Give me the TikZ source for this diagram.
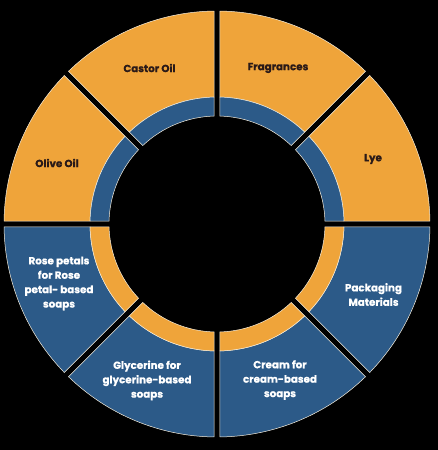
\documentclass[tikz,border=0pt]{standalone}
\usepackage{fontspec}
\newfontfamily\popfont{Poppins}[BoldFeatures={FakeBold=0.6}]
\definecolor{segorange}{HTML}{EFA43A}
\definecolor{segblue}{HTML}{2C5A88}
\definecolor{darktext}{HTML}{2A1A18}
\definecolor{edgeline}{HTML}{F6EEDD}
\def\gh{3}
\newcommand{\ringseg}[5]{%
  \pgfmathsetmacro{\oa}{#1+asin(\gh/#4)}%
  \pgfmathsetmacro{\ob}{#2-asin(\gh/#4)}%
  \pgfmathsetmacro{\ia}{#1+asin(\gh/#3)}%
  \pgfmathsetmacro{\ib}{#2-asin(\gh/#3)}%
  \path[#5] (\oa:#4pt) arc[start angle=\oa, end angle=\ob, radius=#4pt] -- (\ib:#3pt) arc[start angle=\ib, end angle=\ia, radius=#3pt] -- cycle;
}
\tikzset{
  orangepart/.style={fill=segorange, draw=edgeline, line width=0.5pt},
  bluepart/.style={fill=segblue, draw=edgeline, line width=0.5pt},
  labelorange/.style={text=darktext, align=center, font=\popfont\bfseries\fontsize{10.3}{14.4}\selectfont},
  labelblue/.style={text=white, align=center, font=\popfont\bfseries\fontsize{10.3}{14.4}\selectfont},
}
\begin{document}
\begin{tikzpicture}[x=1pt,y=1pt]
\useasboundingbox (-217,-226) rectangle (221,224);
\fill[black] (-217,-226) rectangle (221,224);
% top half: orange with blue band
\foreach \a in {0,45,90,135}{
  \pgfmathsetmacro{\b}{\a+45}
  \ringseg{\a}{\b}{127}{213}{orangepart}
  \ringseg{\a}{\b}{108}{127}{bluepart}
}
% bottom half: blue with orange band
\foreach \a in {180,225,270,315}{
  \pgfmathsetmacro{\b}{\a+45}
  \ringseg{\a}{\b}{127}{213}{bluepart}
  \ringseg{\a}{\b}{108}{127}{orangepart}
}
\node[labelorange] (castor) at (-67.5,156) {Castor Oil};
\node[labelorange] (fragr) at (61,156) {Fragrances};
\node[labelorange] (olive) at (-160,61) {Olive Oil};
\node[labelorange] (lye) at (156,65) {Lye};
\node[labelblue] (rose) at (-158,-59.5) {Rose petals\\for Rose\\petal- based\\soaps};
\node[labelblue] (glyc) at (-70,-156.5) {Glycerine for\\glycerine-based\\soaps};
\node[labelblue] (pack) at (156.5,-70.5) {Packaging\\Materials};
\node[labelblue] (cream) at (63,-156) {Cream for\\cream-based\\soaps};
\end{tikzpicture}
\end{document}
